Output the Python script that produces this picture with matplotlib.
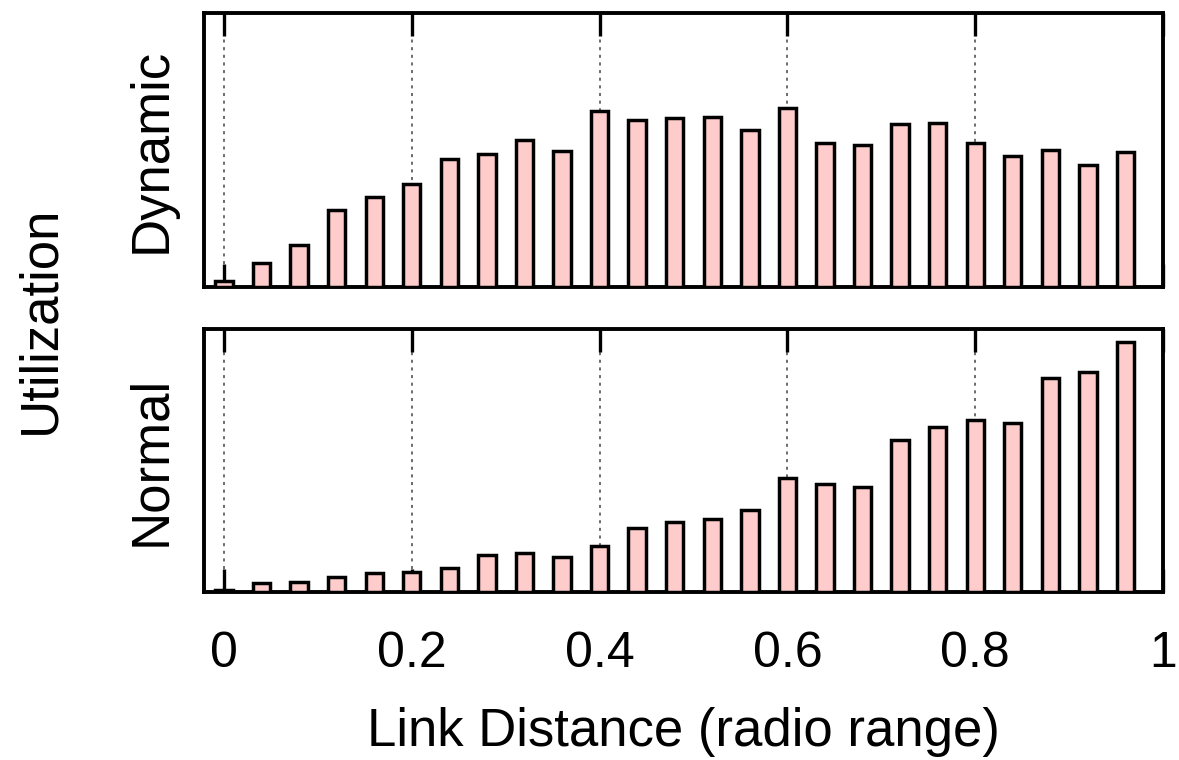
import matplotlib
matplotlib.use("Agg")
import matplotlib.pyplot as plt
import numpy as np

plt.rcParams['font.family'] = ['Liberation Sans', 'DejaVu Sans']

# Data (arbitrary utilization units)
link_distance = [0.00, 0.04, 0.08, 0.12, 0.16, 0.20, 0.24, 0.28, 0.32, 0.36,
                 0.40, 0.44, 0.48, 0.52, 0.56, 0.60, 0.64, 0.68, 0.72, 0.76,
                 0.80, 0.84, 0.88, 0.92, 0.96]
dynamic_util = [6, 24, 42, 77, 90, 103, 128, 133, 147, 136,
                176, 167, 169, 170, 157, 179, 144, 142, 163, 164,
                144, 131, 137, 122, 135]
normal_util = [2, 9, 10, 15, 19, 20, 24, 37, 39, 35,
               46, 64, 70, 73, 82, 114, 108, 105, 152, 165,
               172, 169, 214, 220, 250]
xticks = [0, 0.2, 0.4, 0.6, 0.8, 1.0]
xtick_labels = ["0", "0.2", "0.4", "0.6", "0.8", "1"]
panel_labels = ["Dynamic", "Normal"]

fig = plt.figure(figsize=(11.79, 7.6), dpi=100)
W, H = 1179, 760
left, right = 204, 1163
panels = [(13, 287), (329, 592)]
ylims = [274, 263]
series = [dynamic_util, normal_util]

for i, ((top, bot), ymax, vals, lab) in enumerate(zip(panels, ylims, series, panel_labels)):
    ax = fig.add_axes([left / W, 1 - bot / H, (right - left) / W, (bot - top) / H])
    ax.bar(link_distance, vals, width=0.0185, color='#FFCCCC', edgecolor='black',
           linewidth=2.5, zorder=3)
    ax.set_xlim(-0.0213, 1.0)
    ax.set_ylim(0, ymax)
    ax.set_yticks([])
    ax.set_xticks(xticks)
    ax.xaxis.grid(True, linestyle=(0, (2.0, 3.0)), color='#444444', linewidth=1.1, zorder=0)
    ax.set_axisbelow(True)
    ax.tick_params(axis='x', direction='in', top=True, bottom=True, length=16.5,
                   width=2.4, pad=28, labelsize=36)
    if i == 1:
        ax.set_xticklabels(xtick_labels)
        ax.set_xlabel("Link Distance (radio range)", fontsize=38, labelpad=22)
    else:
        ax.set_xticklabels([])
    for s in ax.spines.values():
        s.set_linewidth(2.8)
    ax.set_ylabel(lab, fontsize=38, labelpad=20)

fig.text(40 / W, 1 - 320 / H, "Utilization", rotation=90, fontsize=38,
         ha='center', va='center')

fig.savefig("out.png", dpi=100)
